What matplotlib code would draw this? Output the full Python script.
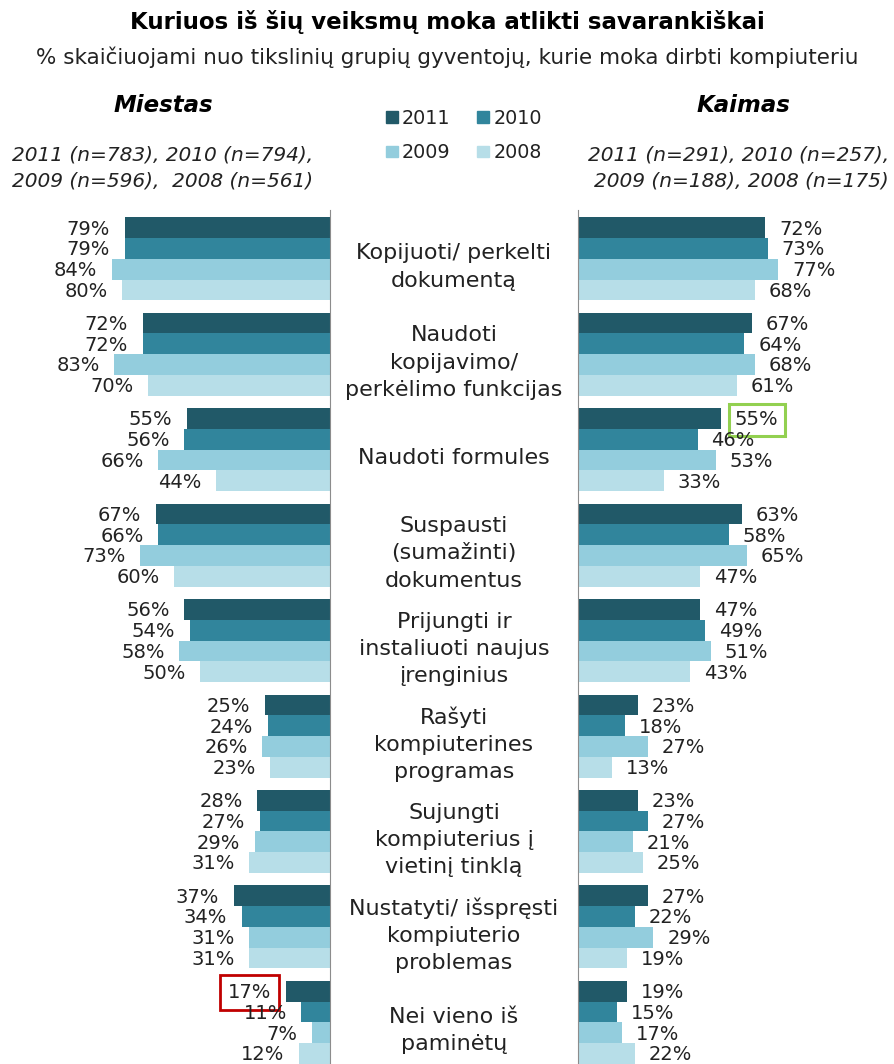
import matplotlib
matplotlib.use("Agg")
import matplotlib.pyplot as plt
import matplotlib.transforms as mtransforms
from matplotlib.patches import Patch

# data
categories = [
    "Kopijuoti/ perkelti\ndokumentą",
    "Naudoti\nkopijavimo/\nperkėlimo funkcijas",
    "Naudoti formules",
    "Suspausti\n(sumažinti)\ndokumentus",
    "Prijungti ir\ninstaliuoti naujus\nįrenginius",
    "Rašyti\nkompiuterines\nprogramas",
    "Sujungti\nkompiuterius į\nvietinį tinklą",
    "Nustatyti/ išspręsti\nkompiuterio\nproblemas",
    "Nei vieno iš\npaminėtų",
]
years = ["2011", "2010", "2009", "2008"]

miestas_2011 = [79, 72, 55, 67, 56, 25, 28, 37, 17]
miestas_2010 = [79, 72, 56, 66, 54, 24, 27, 34, 11]
miestas_2009 = [84, 83, 66, 73, 58, 26, 29, 31, 7]
miestas_2008 = [80, 70, 44, 60, 50, 23, 31, 31, 12]

kaimas_2011 = [72, 67, 55, 63, 47, 23, 23, 27, 19]
kaimas_2010 = [73, 64, 46, 58, 49, 18, 27, 22, 15]
kaimas_2009 = [77, 68, 53, 65, 51, 27, 21, 29, 17]
kaimas_2008 = [68, 61, 33, 47, 43, 13, 25, 19, 22]

miestas = [miestas_2011, miestas_2010, miestas_2009, miestas_2008]
kaimas = [kaimas_2011, kaimas_2010, kaimas_2009, kaimas_2008]

colors = ["#215968", "#31859C", "#93CDDD", "#B7DEE8"]
TXT = "#222222"

W, H = 895, 1064
fig = plt.figure(figsize=(W / 100, H / 100), dpi=100)

pitch = 4.6  # group pitch in bar units
y_top = -0.35
y_bot = y_top + 854 / 20.75

def px_box(x0, x1, ytop, ybot):
    return [x0 / W, 1 - ybot / H, (x1 - x0) / W, (ybot - ytop) / H]

axL = fig.add_axes(px_box(70, 330, 210, 1064))
axR = fig.add_axes(px_box(578, 838, 210, 1064))

for ax, data, side in [(axL, miestas, "L"), (axR, kaimas, "R")]:
    for j, vals in enumerate(data):
        ys = [i * pitch + j + 0.5 for i in range(len(vals))]
        ax.barh(ys, vals, height=1.0, color=colors[j], edgecolor="none")
        for i, (y, v) in enumerate(zip(ys, vals)):
            boxed = None
            if side == "L" and i == 8 and j == 0:
                boxed = dict(boxstyle="square,pad=0.4", fc="none", ec="#C00000", lw=2)
            if side == "R" and i == 2 and j == 0:
                boxed = dict(boxstyle="square,pad=0.32", fc="none", ec="#92D050", lw=2.2)
            if side == "L":
                ax.annotate(f"{v}%", (v, y), xytext=(-10.5, -1), textcoords="offset points",
                            ha="right", va="center", fontsize=14, color=TXT, bbox=boxed)
            else:
                ax.annotate(f"{v}%", (v, y), xytext=(10, -1), textcoords="offset points",
                            ha="left", va="center", fontsize=14, color=TXT, bbox=boxed)
    ax.set_ylim(y_bot, y_top)
    ax.set_xticks([])
    ax.set_yticks([])
    for s in ax.spines.values():
        s.set_visible(False)
    ax.patch.set_alpha(0)

axL.set_xlim(100, 0)
axR.set_xlim(0, 100)
axL.spines["right"].set_visible(True)
axL.spines["right"].set_color("#8c8c8c")
axR.spines["left"].set_visible(True)
axR.spines["left"].set_color("#8c8c8c")

# category labels in the middle
trans = mtransforms.blended_transform_factory(fig.transFigure, axL.transData)
for i, cat in enumerate(categories):
    fig.text(454 / W, i * pitch + 2.4, cat, transform=trans, ha="center", va="center",
             fontsize=16, color=TXT, linespacing=1.45)

# titles
fig.text(0.5, 1 - 22 / H, "Kuriuos iš šių veiksmų moka atlikti savarankiškai",
         ha="center", va="center", fontsize=16.5, fontweight="bold", color="black")
fig.text(0.5, 1 - 57 / H, "% skaičiuojami nuo tikslinių grupių gyventojų, kurie moka dirbti kompiuteriu",
         ha="center", va="center", fontsize=15.5, color=TXT)
fig.text(163 / W, 1 - 105 / H, "Miestas", ha="center", va="center", fontsize=16.5,
         fontweight="bold", fontstyle="italic", color="black")
fig.text(743 / W, 1 - 105 / H, "Kaimas", ha="center", va="center", fontsize=16.5,
         fontweight="bold", fontstyle="italic", color="black")
fig.text(313 / W, 1 - 168 / H, "2011 (n=783), 2010 (n=794),\n2009 (n=596),  2008 (n=561)",
         ha="right", va="center", fontsize=14.5, fontstyle="italic", color=TXT, linespacing=1.45)
fig.text(889 / W, 1 - 168 / H, "2011 (n=291), 2010 (n=257),\n2009 (n=188), 2008 (n=175)",
         ha="right", va="center", fontsize=14.5, fontstyle="italic", color=TXT, linespacing=1.45)

# legend: 2011, 2010 on the first row, 2009, 2008 on the second
order = [0, 2, 1, 3]
handles = [Patch(color=colors[k], label=years[k]) for k in order]
fig.legend(handles=handles, ncol=2, frameon=False, loc="upper left",
           bbox_to_anchor=(386 / W, 1 - 109 / H), fontsize=13.8, handlelength=0.63,
           handleheight=0.55, handletextpad=0.2, columnspacing=1.4, labelspacing=0.8,
           borderpad=0, borderaxespad=0, labelcolor=TXT)

fig.savefig("out.png", dpi=100)
